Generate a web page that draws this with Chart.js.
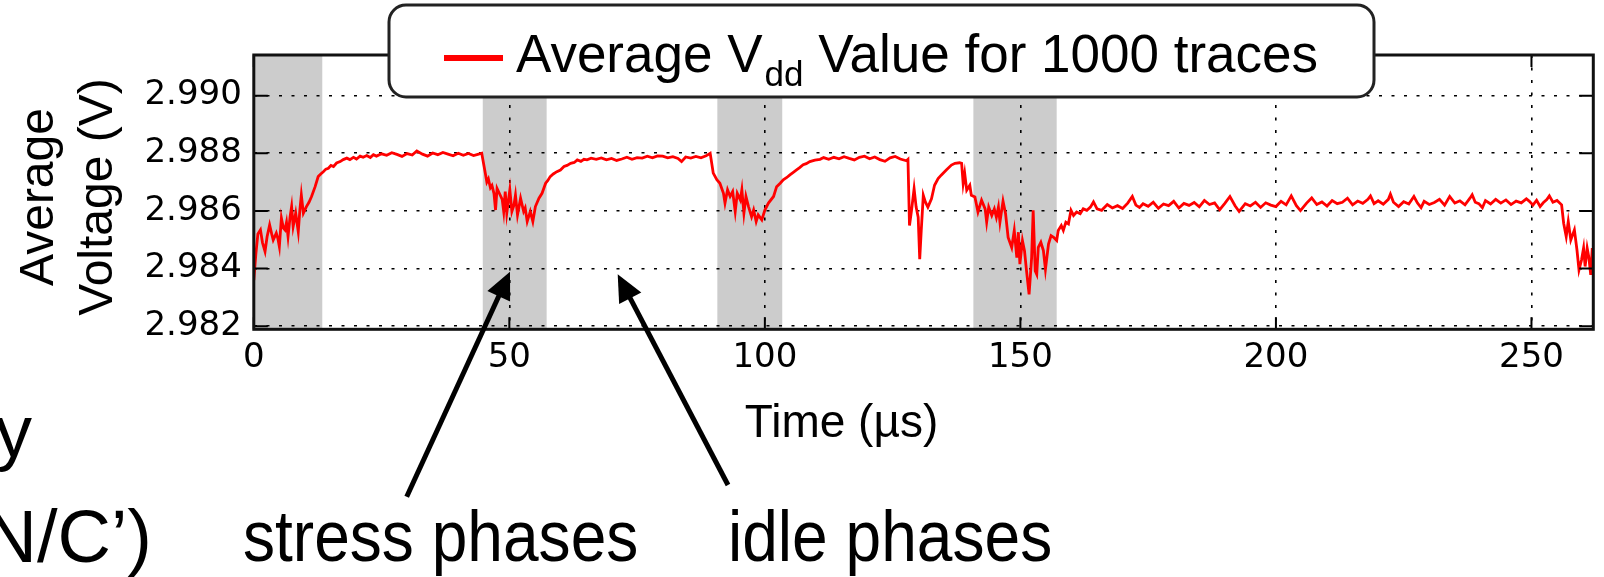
<!DOCTYPE html>
<html>
<head>
<meta charset="utf-8">
<title>Average Vdd over time</title>
<script src="https://cdn.jsdelivr.net/npm/chart.js@4.4.0/dist/chart.umd.min.js"></script>
<style>
  html, body { margin: 0; padding: 0; background: #fff; overflow: hidden; }
  #c { display: block; }
</style>
</head>
<body>
<canvas id="c" width="1604" height="577"></canvas>
<script>
// ---- data ---------------------------------------------------------------
const timeTicks = [0, 50, 100, 150, 200, 250];            // µs
const voltageTicks = [2.982, 2.984, 2.986, 2.988, 2.990]; // V
const timeRange = [0, 262.1];
const voltageRange = [2.98189, 2.99141];

// stress phases (shaded), [start, end] in µs
const stressPhases = [[0, 13.4], [44.8, 57.3], [90.7, 103.4], [140.8, 157.1]];

// averaged supply voltage over 1000 traces: [time µs, volts]
const avgVdd = [
  [0.0, 2.98360], [0.4, 2.98450], [0.8, 2.98520], [1.3, 2.98534], [1.7, 2.98490],
  [2.2, 2.98459], [2.6, 2.98510], [3.1, 2.98551], [3.5, 2.98520], [3.8, 2.98499],
  [4.4, 2.98523], [4.7, 2.98505], [5.0, 2.98476], [5.4, 2.98575], [5.8, 2.98540],
  [6.1, 2.98534], [6.4, 2.98560], [6.7, 2.98511], [7.1, 2.98580], [7.4, 2.98615],
  [7.7, 2.98546], [8.2, 2.98592], [8.7, 2.98528], [9.0, 2.98600], [9.3, 2.98655],
  [9.7, 2.98592], [10.3, 2.98615], [10.8, 2.98630], [11.3, 2.98650], [12.0, 2.98684],
  [12.6, 2.98719], [13.1, 2.98728], [13.6, 2.98736], [14.1, 2.98745], [14.6, 2.98748],
  [15.1, 2.98758], [15.6, 2.98754], [16.2, 2.98766], [16.9, 2.98771], [17.5, 2.98778],
  [18.2, 2.98783], [18.8, 2.98778], [19.5, 2.98786], [20.1, 2.98780], [20.8, 2.98790],
  [21.4, 2.98786], [22.1, 2.98792], [22.8, 2.98785], [23.4, 2.98795],
  [24, 2.98790], [25, 2.98798], [26, 2.98793], [27, 2.98802], [28, 2.98796],
  [29, 2.98789], [30, 2.98799], [31, 2.98794], [31.9, 2.98808], [33, 2.98797],
  [34, 2.98790], [35, 2.98801], [36, 2.98795], [37, 2.98803], [38, 2.98797],
  [39, 2.98791], [40, 2.98800], [41, 2.98793], [42, 2.98799], [43, 2.98792],
  [44, 2.98797], [44.6, 2.98800],
  [45.3, 2.98731], [45.6, 2.98700], [45.9, 2.98711], [46.3, 2.98680], [46.6, 2.98688],
  [47.0, 2.98660], [47.3, 2.98603], [47.6, 2.98678], [48.2, 2.98655], [48.6, 2.98640],
  [48.9, 2.98598], [49.2, 2.98667], [49.5, 2.98592], [50.1, 2.98673], [50.5, 2.98598],
  [50.9, 2.98620], [51.2, 2.98655], [51.6, 2.98586], [52.2, 2.98644], [52.8, 2.98598],
  [53.1, 2.98610], [53.5, 2.98563], [54.1, 2.98598], [54.6, 2.98563], [55.1, 2.98615],
  [55.8, 2.98644], [56.4, 2.98661], [57.1, 2.98696], [57.5, 2.98705], [58.0, 2.98719],
  [58.6, 2.98728], [59.3, 2.98736], [60.0, 2.98742], [60.7, 2.98754], [61.3, 2.98758],
  [62.0, 2.98765], [62.7, 2.98768], [63.3, 2.98777], [64.0, 2.98772], [64.6, 2.98779],
  [65.2, 2.98777], [66, 2.98783], [67, 2.98779], [68, 2.98784], [69, 2.98777],
  [70, 2.98782], [71, 2.98775], [72, 2.98780], [73, 2.98786], [74, 2.98779],
  [75, 2.98785], [76, 2.98783], [77, 2.98790], [78, 2.98784], [79, 2.98791],
  [80, 2.98790], [81, 2.98784], [82, 2.98788], [83, 2.98782], [83.7, 2.98771],
  [84.5, 2.98787], [85.5, 2.98783], [86.5, 2.98789], [87.5, 2.98784], [88.5, 2.98791],
  [89.3, 2.98800],
  [89.9, 2.98731], [90.6, 2.98708], [91.2, 2.98696], [91.9, 2.98661], [92.2, 2.98627],
  [92.7, 2.98673], [93.2, 2.98650], [93.7, 2.98667], [94.2, 2.98598], [94.6, 2.98661],
  [95.2, 2.98638], [95.5, 2.98673], [95.9, 2.98592], [96.3, 2.98650], [96.8, 2.98615],
  [97.4, 2.98580], [97.8, 2.98603], [98.3, 2.98563], [98.7, 2.98586], [99.4, 2.98569],
  [100.0, 2.98603], [100.7, 2.98627], [101.7, 2.98650], [102.3, 2.98684], [103.0, 2.98696],
  [103.6, 2.98708], [104.3, 2.98716], [104.9, 2.98725], [105.5, 2.98733], [106.2, 2.98742],
  [106.8, 2.98750], [107.5, 2.98760], [108.1, 2.98764], [108.8, 2.98771], [109.8, 2.98776],
  [110.8, 2.98779],
  [111.5, 2.98785], [112.5, 2.98779], [113.5, 2.98786], [114.5, 2.98781], [115.5, 2.98788],
  [116.5, 2.98782], [117.5, 2.98777], [118.5, 2.98786], [119.5, 2.98790], [120.5, 2.98781],
  [121.5, 2.98787], [122.5, 2.98778], [123.5, 2.98772], [124.5, 2.98784], [125.5, 2.98789],
  [126.5, 2.98780], [127.7, 2.98774], [128.0, 2.98779],
  [128.3, 2.98549], [128.7, 2.98602], [129.2, 2.98677], [129.6, 2.98613], [130.0, 2.98578],
  [130.3, 2.98432], [130.6, 2.98532], [131.0, 2.98654], [131.4, 2.98631], [131.9, 2.98613],
  [132.6, 2.98642], [133.2, 2.98689], [133.9, 2.98712], [134.5, 2.98724], [135.5, 2.98742],
  [136.5, 2.98759], [137.2, 2.98765], [138.1, 2.98767], [138.5, 2.98765], [138.8, 2.98695],
  [139.1, 2.98730], [139.5, 2.98672], [140.1, 2.98689], [140.4, 2.98654], [141.1, 2.98648],
  [141.7, 2.98596], [142.4, 2.98637], [143.1, 2.98607], [143.4, 2.98561], [143.8, 2.98613],
  [144.4, 2.98584], [144.9, 2.98607], [145.3, 2.98578], [145.7, 2.98613], [146.0, 2.98561],
  [146.6, 2.98634], [147.1, 2.98590], [147.6, 2.98508], [148.3, 2.98473], [148.8, 2.98532],
  [149.3, 2.98438], [149.6, 2.98526], [149.9, 2.98415], [150.4, 2.98497], [150.8, 2.98462],
  [151.2, 2.98392], [151.7, 2.98310], [152.2, 2.98438], [152.5, 2.98602], [152.9, 2.98392],
  [153.2, 2.98380], [153.5, 2.98473], [154.0, 2.98491], [154.5, 2.98462], [154.9, 2.98397],
  [155.5, 2.98485], [156.0, 2.98514], [156.5, 2.98508], [157.1, 2.98497], [157.4, 2.98532],
  [158.0, 2.98549], [158.4, 2.98532], [158.9, 2.98561], [159.4, 2.98555], [159.9, 2.98602],
  [160.4, 2.98584], [161.0, 2.98596], [161.7, 2.98590], [162.3, 2.98607], [163.0, 2.98602],
  [163.7, 2.98613], [164.3, 2.98631], [165.0, 2.98607], [165.9, 2.98602],
  [167, 2.98622], [168, 2.98610], [169, 2.98618], [170, 2.98608], [171, 2.98627],
  [171.9, 2.98650], [172.6, 2.98620], [173.3, 2.98612], [174, 2.98625], [175, 2.98616],
  [176, 2.98630], [177, 2.98609], [178, 2.98624], [179, 2.98618], [180, 2.98633],
  [181, 2.98610], [182, 2.98626], [183, 2.98619], [184, 2.98629], [185, 2.98614],
  [186, 2.98636], [187, 2.98622], [188, 2.98628], [189, 2.98604], [190, 2.98626],
  [191, 2.98650], [192, 2.98618], [192.8, 2.98598], [194, 2.98625], [195, 2.98617],
  [196, 2.98630], [197, 2.98612], [198, 2.98628], [199, 2.98620], [200, 2.98615],
  [201, 2.98633], [202, 2.98621], [203, 2.98652], [204, 2.98618], [204.8, 2.98601],
  [206, 2.98627], [207, 2.98645], [208, 2.98622], [209, 2.98631], [210, 2.98617],
  [211, 2.98636], [212, 2.98625], [213, 2.98630], [214, 2.98644], [215, 2.98621],
  [216, 2.98634], [217, 2.98626], [218, 2.98640], [218.5, 2.98652], [219.2, 2.98625],
  [220, 2.98635], [221, 2.98623], [222, 2.98640], [222.4, 2.98658], [223, 2.98630],
  [224, 2.98615], [225, 2.98632], [226, 2.98624], [227, 2.98650], [227.7, 2.98627],
  [228.4, 2.98611], [229, 2.98633], [230, 2.98622], [231, 2.98629], [232, 2.98640],
  [233, 2.98620], [234, 2.98650], [235, 2.98627], [236, 2.98635], [237, 2.98621],
  [238, 2.98645], [238.4, 2.98656], [239, 2.98630], [239.7, 2.98625], [240.4, 2.98611],
  [241, 2.98636], [242, 2.98624], [243, 2.98640], [244, 2.98627], [245, 2.98638],
  [246, 2.98622], [247, 2.98634], [248, 2.98628], [249, 2.98642], [249.6, 2.98633],
  [250.3, 2.98620], [251, 2.98637], [251.7, 2.98615], [252.3, 2.98628], [253, 2.98639],
  [253.5, 2.98652], [254.2, 2.98630], [255, 2.98636], [255.9, 2.98621],
  [256.3, 2.98557], [256.8, 2.98511], [257.2, 2.98563], [257.7, 2.98499], [258.4, 2.98534],
  [258.9, 2.98465], [259.3, 2.98395], [259.8, 2.98430], [260.2, 2.98471], [260.5, 2.98407],
  [260.9, 2.98471], [261.2, 2.98442], [261.6, 2.98378], [261.9, 2.98471], [262.1, 2.98407]
];

// ---- styling ------------------------------------------------------------
const SANS = "'Liberation Sans', Arial, Helvetica, sans-serif";
const TICK_FONT = "'DejaVu Sans', Verdana, sans-serif";
const INK = '#000000';
const TRACE_RED = '#ff0000';
const PHASE_GREY = '#cccccc';

// Shaded stress-phase bands, behind grid and trace
const phaseBands = {
  id: 'phaseBands',
  beforeDraw(chart) {
    const { ctx, chartArea: a, scales: { x } } = chart;
    ctx.save();
    ctx.fillStyle = PHASE_GREY;
    for (const [t0, t1] of stressPhases) {
      const x0 = Math.max(a.left, x.getPixelForValue(t0));
      const x1 = Math.min(a.right, x.getPixelForValue(t1));
      ctx.fillRect(x0, a.top, x1 - x0, a.bottom - a.top);
    }
    ctx.restore();
  }
};

function arrow(ctx, x0, y0, x1, y1) {
  const ang = Math.atan2(y1 - y0, x1 - x0);
  const len = 27, half = 12.5;
  const c = Math.cos(ang), s = Math.sin(ang);
  const bx = x1 - len * c, by = y1 - len * s;
  ctx.save();
  ctx.strokeStyle = INK;
  ctx.fillStyle = INK;
  ctx.lineWidth = 5;
  ctx.beginPath();
  ctx.moveTo(x0, y0);
  ctx.lineTo(bx + 3 * c, by + 3 * s);
  ctx.stroke();
  ctx.beginPath();
  ctx.moveTo(x1, y1);
  ctx.lineTo(bx + half * s, by - half * c);
  ctx.lineTo(bx - half * s, by + half * c);
  ctx.closePath();
  ctx.fill();
  ctx.restore();
}

function squeezedText(ctx, text, x, y, size, sx, align) {
  ctx.save();
  ctx.font = size + 'px ' + SANS;
  ctx.textAlign = align || 'left';
  ctx.textBaseline = 'alphabetic';
  ctx.translate(x, y);
  ctx.scale(sx, 1);
  ctx.fillText(text, 0, 0);
  ctx.restore();
}

// Frame, inward ticks, titles, legend and annotations
const decorations = {
  id: 'decorations',
  afterDraw(chart) {
    const { ctx, chartArea: a, scales: { x, y } } = chart;
    ctx.save();

    // inward tick marks on all four sides
    ctx.strokeStyle = INK;
    ctx.lineWidth = 2;
    ctx.beginPath();
    for (const t of timeTicks) {
      const px = x.getPixelForValue(t);
      ctx.moveTo(px, a.bottom); ctx.lineTo(px, a.bottom - 12);
      ctx.moveTo(px, a.top); ctx.lineTo(px, a.top + 12);
    }
    for (const v of voltageTicks) {
      const py = y.getPixelForValue(v);
      ctx.moveTo(a.left, py); ctx.lineTo(a.left + 14, py);
      ctx.moveTo(a.right, py); ctx.lineTo(a.right - 14, py);
    }
    ctx.stroke();

    // plot frame
    ctx.lineWidth = 3;
    ctx.strokeStyle = '#111';
    ctx.strokeRect(a.left, a.top, a.right - a.left, a.bottom - a.top);

    // axis titles
    ctx.fillStyle = INK;
    ctx.textBaseline = 'alphabetic';
    ctx.textAlign = 'center';
    ctx.font = '48px ' + SANS;
    ctx.save();
    ctx.translate(53, 197);
    ctx.rotate(-Math.PI / 2);
    ctx.fillText('Average', 0, 0);
    ctx.restore();
    ctx.save();
    ctx.translate(111.5, 197);
    ctx.rotate(-Math.PI / 2);
    ctx.fillText('Voltage (V)', 0, 0);
    ctx.restore();
    ctx.font = '46px ' + SANS;
    ctx.fillText('Time (\u00b5s)', 841.5, 437);

    // legend box
    ctx.beginPath();
    ctx.roundRect(389, 5, 985, 92, 17);
    ctx.fillStyle = '#ffffff';
    ctx.fill();
    ctx.lineWidth = 3;
    ctx.strokeStyle = '#222';
    ctx.stroke();
    ctx.strokeStyle = TRACE_RED;
    ctx.lineWidth = 6;
    ctx.beginPath();
    ctx.moveTo(444, 58);
    ctx.lineTo(503, 58);
    ctx.stroke();
    ctx.fillStyle = INK;
    ctx.textAlign = 'left';
    let lx = 516;
    ctx.font = '53px ' + SANS;
    ctx.fillText('Average V', lx, 71.7);
    lx += ctx.measureText('Average V').width + 2;
    ctx.font = '35px ' + SANS;
    ctx.fillText('dd', lx, 86);
    lx += ctx.measureText('dd').width;
    ctx.font = '53px ' + SANS;
    const rest = ' Value for 1000 traces';
    // keep the line ending where the box text ends
    const restW = ctx.measureText(rest).width;
    ctx.save();
    ctx.translate(lx, 71.7);
    ctx.scale(Math.min(1, (1320 - lx) / restW), 1);
    ctx.fillText(rest, 0, 0);
    ctx.restore();

    // annotations below the plot
    squeezedText(ctx, 'stress phases', 243, 561, 72, 0.89, 'left');
    squeezedText(ctx, 'idle phases', 728, 561, 72, 0.89, 'left');
    squeezedText(ctx, 'y', 32, 457, 74, 1, 'right');
    squeezedText(ctx, 'N/C\u2019)', 152, 562, 74, 1, 'right');
    arrow(ctx, 406.7, 496.7, 510, 271.7);
    arrow(ctx, 728, 485, 617.7, 274.3);

    ctx.restore();
  }
};

const gridStyle = { color: INK, lineWidth: 1.6, drawTicks: false };

new Chart(document.getElementById('c'), {
  type: 'line',
  data: {
    datasets: [{
      label: 'Average Vdd Value for 1000 traces',
      data: avgVdd.map(([t, v]) => ({ x: t, y: v })),
      borderColor: TRACE_RED,
      borderWidth: 2.8,
      pointRadius: 0,
      tension: 0,
      fill: false
    }]
  },
  options: {
    responsive: false,
    animation: false,
    devicePixelRatio: 1,
    layout: { padding: { left: 0, top: 55, right: 10.7, bottom: 0 } },
    plugins: { legend: { display: false }, tooltip: { enabled: false } },
    scales: {
      x: {
        type: 'linear',
        min: timeRange[0],
        max: timeRange[1],
        afterBuildTicks: s => { s.ticks = timeTicks.map(v => ({ value: v })); },
        afterFit: s => { s.height = 247.7; },
        grid: gridStyle,
        border: { display: false, dash: [3, 9.5] },
        ticks: {
          color: INK, padding: 8, maxRotation: 0, autoSkip: false,
          font: { family: TICK_FONT, size: 34 },
          callback: v => String(v)
        }
      },
      y: {
        type: 'linear',
        min: voltageRange[0],
        max: voltageRange[1],
        afterBuildTicks: s => { s.ticks = voltageTicks.map(v => ({ value: v })); },
        afterFit: s => { s.width = 253.8; },
        grid: gridStyle,
        border: { display: false, dash: [3, 9.5] },
        ticks: {
          color: INK, padding: 12, autoSkip: false,
          font: { family: TICK_FONT, size: 34 },
          callback: v => v.toFixed(3)
        }
      }
    }
  },
  plugins: [phaseBands, decorations]
});
</script>
</body>
</html>
